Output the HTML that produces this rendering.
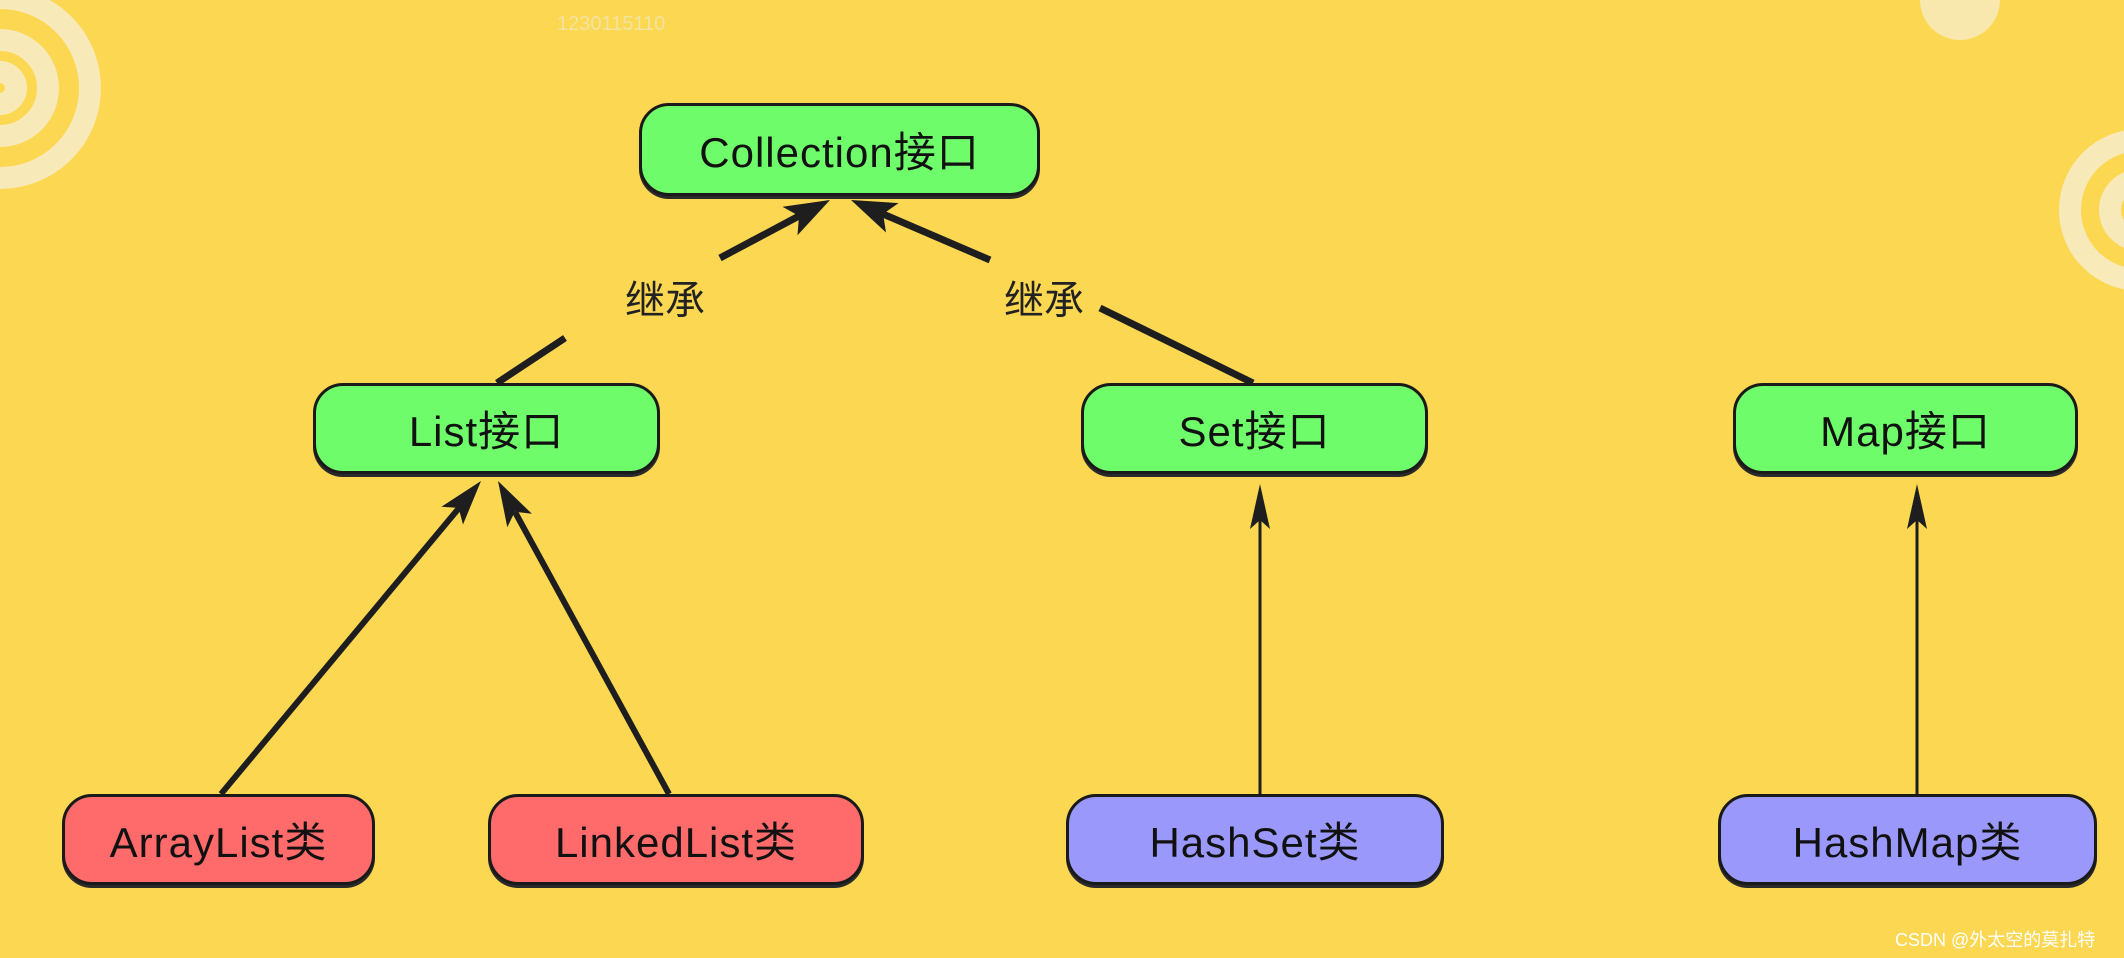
<!DOCTYPE html>
<html><head><meta charset="utf-8"><style>
html,body{margin:0;padding:0}
body{width:2124px;height:958px;background:#fbd752;position:relative;overflow:hidden;font-family:"Liberation Sans","Noto Sans CJK SC",sans-serif}
.n{position:absolute;box-sizing:border-box;border:3px solid #1a1a1a;border-radius:30px;display:flex;align-items:center;justify-content:center;font-size:42px;color:#111;letter-spacing:1px;box-shadow:0 3px 0 #2a2a2a}
.g{background:#6ffc6a}.r{background:#ff6b6b}.b{background:#9a99fb}
.lb{position:absolute;font-size:40px;color:#222;font-family:"Noto Sans CJK SC",sans-serif}
</style></head><body>
<svg width="2124" height="958" style="position:absolute;left:0;top:0">
<g fill="none" stroke="#f8ecc4" stroke-width="22" opacity="0.9">
<circle cx="0" cy="88" r="90"/><circle cx="0" cy="88" r="48"/><circle cx="0" cy="88" r="16"/>
<circle cx="2140" cy="210" r="70"/><circle cx="2140" cy="210" r="30"/>
</g>
<circle cx="1960" cy="0" r="40" fill="#f8ecc4" opacity="0.8"/>
<text x="557" y="30" font-size="20" fill="#f3e3a0" font-family="Liberation Sans">1230115110</text>
<g stroke="#1e1e1e" stroke-linecap="butt">
<line x1="497" y1="383" x2="565" y2="338" stroke-width="7"/>
<line x1="720" y1="258" x2="799" y2="216" stroke-width="7"/>
<line x1="1253" y1="383" x2="1100" y2="308" stroke-width="7"/>
<line x1="990" y1="260" x2="883" y2="214" stroke-width="7"/>
<line x1="221" y1="794" x2="459" y2="508" stroke-width="6"/>
<line x1="669" y1="794" x2="515" y2="512" stroke-width="6"/>
<line x1="1260" y1="794" x2="1260" y2="520" stroke-width="3"/>
<line x1="1917" y1="794" x2="1917" y2="520" stroke-width="3"/>
</g>
<g fill="#1e1e1e">
<polygon points="830,200 782.5,206.8 799,216 797.5,235.2"/>
<polygon points="851,200 898.6,203.1 883.1,213.9 886,232.5"/>
<polygon points="481,481 463,524.5 458.6,507.9 441.4,506.7"/>
<polygon points="498,481 531.9,513.8 514.8,511.7 507.3,527.2"/>
<polygon points="1260,484 1270,529 1260,520 1250,529"/>
<polygon points="1917,484 1927,529 1917,520 1907,529"/>
</g>
</svg>
<div class="lb" style="left:625px;top:268px">继承</div>
<div class="lb" style="left:1004px;top:268px">继承</div>
<div class="n g" style="left:639px;top:103px;width:401px;height:93px">Collection接口</div>
<div class="n g" style="left:313px;top:383px;width:347px;height:91px">List接口</div>
<div class="n g" style="left:1081px;top:383px;width:347px;height:91px">Set接口</div>
<div class="n g" style="left:1733px;top:383px;width:345px;height:91px">Map接口</div>
<div class="n r" style="left:62px;top:794px;width:313px;height:91px">ArrayList类</div>
<div class="n r" style="left:488px;top:794px;width:376px;height:91px">LinkedList类</div>
<div class="n b" style="left:1066px;top:794px;width:378px;height:91px">HashSet类</div>
<div class="n b" style="left:1718px;top:794px;width:379px;height:91px">HashMap类</div>
<div style="position:absolute;left:1895px;top:926px;font-size:18px;color:#fff;font-family:'Liberation Sans','Noto Sans CJK SC',sans-serif">CSDN @外太空的莫扎特</div>
</body></html>
